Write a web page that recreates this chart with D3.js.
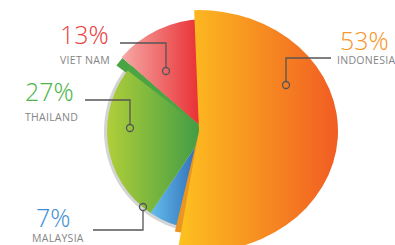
<!doctype html>
<html>
<head>
<meta charset="UTF-8">
<title>Pie</title>
<script src="https://cdnjs.cloudflare.com/ajax/libs/d3/7.8.5/d3.min.js"></script>
<style>
	body { margin: 0; background: #fff; }
	svg { display: block; }
	.pct { font-family: 'Open Sans Light', 'Open Sans', sans-serif; font-weight: 300; font-size: 25px; }
	.name { font-family: 'Open Sans', sans-serif; font-size: 10.5px; letter-spacing: 0.3px; fill: #858585; }
</style>
</head>
<body>
<script>

// data
var countries = ["INDONESIA", "MALAYSIA", "THAILAND", "VIET NAM"];
var shares = [53, 7, 27, 13];
var pctLabels = ["53%", "7%", "27%", "13%"];

// look
var gradStops = [["#fdc21f", "#f15c23"], ["#63bdee", "#2960ad"], ["#b0cf38", "#3a9946"], ["#f5a9a6", "#e8262a"]];
var textColors = ["#f7962a", "#3f8fd8", "#4db64a", "#e8413d"];
var radii = [139, 99, 99, 112];

// where the callouts sit: text x, pct baseline, name baseline, line start, dot
var callouts = [
	{tx: 340, ty: 50, nx: 337, ny: 64, lx: 331, ly: 58, cx: 286, cy: 85},
	{tx: 36, ty: 227, nx: 32, ny: 242, lx: 93, ly: 230, cx: 143, cy: 207},
	{tx: 25, ty: 101, nx: 25, ny: 121, lx: 85, ly: 100, cx: 130, cy: 128},
	{tx: 60, ty: 44, nx: 60, ny: 64, lx: 120, ly: 43, cx: 166, cy: 71}
];

var width = 395, height = 245;
var deg = Math.PI / 180;

var svg = d3.select("body").append("svg")
	.attr("width", width)
	.attr("height", height);

var defs = svg.append("defs");

var pie = d3.pie().sort(null)
	.startAngle(-2 * deg)
	.endAngle(358 * deg);

var slices = pie(shares);

// horizontal gradients, one per slice
slices.forEach(function(d, i) {
	var g = defs.append("linearGradient")
		.attr("id", "g" + i)
		.attr("x1", 0).attr("x2", 1).attr("y1", 0).attr("y2", 0);
	g.append("stop").attr("offset", "0%").attr("stop-color", gradStops[i][0]);
	g.append("stop").attr("offset", "100%").attr("stop-color", gradStops[i][1]);
});

// the small slices sit a bit back, the orange one comes forward and is squashed a little
var small = svg.append("g").attr("transform", "translate(206,131)");
var big = svg.append("g").attr("transform", "translate(199,131) scale(1,0.87)");

// grey rim behind the left side
small.append("path")
	.attr("d", d3.arc().innerRadius(0).outerRadius(radii[1] + 3)
		.startAngle(188 * deg)
		.endAngle(slices[3].startAngle + 2 * deg))
	.attr("fill", "#d4d4d4");

// darker side of green slice along the red edge (sticks out a little, like its thickness)
small.append("path")
	.attr("d", d3.arc().innerRadius(0).outerRadius(radii[3] - 1)
		.startAngle(slices[2].endAngle - 5 * deg)
		.endAngle(slices[2].endAngle))
	.attr("fill", "#4aa444");

// small slices
small.selectAll("path.slice")
	.data(slices.slice(1))
	.enter()
	.append("path")
		.attr("class", "slice")
		.attr("d", function(d, i) { return d3.arc().innerRadius(0).outerRadius(radii[i + 1])(d); })
		.attr("fill", function(d, i) { return "url(#g" + (i + 1) + ")"; });

small.append("path")
	.attr("d", d3.arc().innerRadius(0).outerRadius(radii[2])
		.startAngle(slices[2].endAngle - 3.5 * deg)
		.endAngle(slices[2].endAngle))
	.attr("fill", "#4aa444");

// darker side of orange slice along the blue edge
big.append("path")
	.attr("d", d3.arc().innerRadius(0).outerRadius(118)
		.startAngle(slices[0].endAngle - 1 * deg)
		.endAngle(slices[0].endAngle + 3 * deg))
	.attr("fill", "#eb9622");

// big orange slice
big.append("path")
	.attr("d", d3.arc().innerRadius(0).outerRadius(radii[0])(slices[0]))
	.attr("fill", "url(#g0)");

// callouts
var lab = svg.selectAll("g.callout")
	.data(slices)
	.enter()
	.append("g")
		.attr("class", "callout");

lab.append("path")
	.attr("d", function(d, i) {
		var c = callouts[i];
		var dir = c.cy > c.ly ? -3.5 : 3.5;
		return "M" + c.lx + "," + c.ly + "H" + c.cx + "V" + (c.cy + dir);
	})
	.attr("fill", "none")
	.attr("stroke", "#555")
	.attr("stroke-width", 1.3);

lab.append("circle")
	.attr("cx", function(d, i) { return callouts[i].cx; })
	.attr("cy", function(d, i) { return callouts[i].cy; })
	.attr("r", 3.5)
	.attr("fill", "none")
	.attr("stroke", "#555")
	.attr("stroke-width", 1.3);

lab.append("text")
	.attr("class", "pct")
	.attr("x", function(d, i) { return callouts[i].tx; })
	.attr("y", function(d, i) { return callouts[i].ty; })
	.attr("fill", function(d, i) { return textColors[i]; })
	.text(function(d, i) { return pctLabels[i]; });

lab.append("text")
	.attr("class", "name")
	.attr("x", function(d, i) { return callouts[i].nx; })
	.attr("y", function(d, i) { return callouts[i].ny; })
	.text(function(d, i) { return countries[i]; });

</script>
</body>
</html>
